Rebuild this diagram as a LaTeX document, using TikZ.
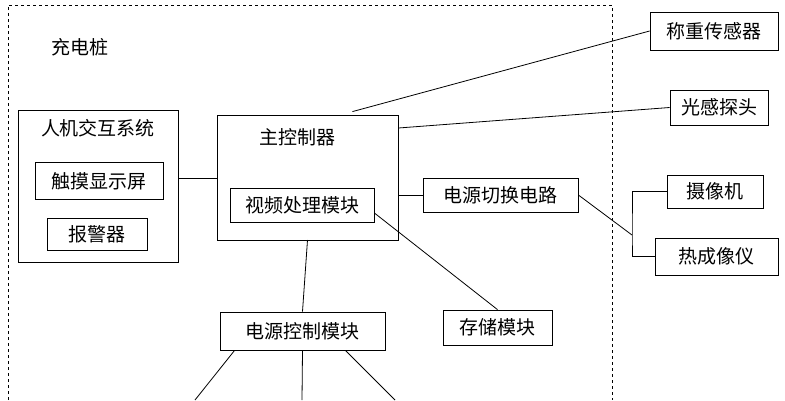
\documentclass[tikz,border=0pt]{standalone}
\usepackage{fontspec}
\setmainfont{Noto Sans CJK SC}
\usetikzlibrary{positioning}
\tikzset{
  blk/.style={draw,thick,rectangle,inner sep=0pt,font=\fontsize{19}{21}\selectfont},
  ln/.style={thick}
}
\begin{document}
\begin{tikzpicture}[x=1pt,y=-1pt]
  \useasboundingbox (0,0) rectangle (785,400);
  % charging pile frame
  \draw[thick,dashed] (8,400) -- (8,5) -- (612,5) -- (612,400);
  \node[font=\fontsize{19}{21}\selectfont] (pile) at (80,47) {充电桩};
  % human machine interface
  \node[blk,minimum width=160,minimum height=152] (hmi) at (98,186) {};
  \node[font=\fontsize{19}{21}\selectfont] (hmit) at (98,128) {人机交互系统};
  \node[blk,minimum width=128,minimum height=37] (touch) at (99,181) {触摸显示屏};
  \node[blk,minimum width=100,minimum height=32] (alarm) at (97,234) {报警器};
  % main controller
  \node[blk,minimum width=181,minimum height=125] (mcu) at (307.5,177.5) {};
  \node[font=\fontsize{19}{21}\selectfont] (mcut) at (297,137) {主控制器};
  \node[blk,minimum width=144,minimum height=34] (video) at (302,205) {视频处理模块};
  \node[blk,minimum width=155,minimum height=34] (switch) at (500.5,195) {电源切换电路};
  \node[blk,minimum width=109,minimum height=35] (store) at (497.5,327.5) {存储模块};
  \node[blk,minimum width=165,minimum height=38] (power) at (302.5,331) {电源控制模块};
  % outside devices
  \node[blk,minimum width=128,minimum height=38] (weigh) at (714,31) {称重传感器};
  \node[blk,minimum width=98,minimum height=35] (light) at (719,107.5) {光感探头};
  \node[blk,minimum width=96,minimum height=33] (cam) at (715,191.5) {摄像机};
  \node[blk,minimum width=123,minimum height=37] (thermal) at (716.5,256.5) {热成像仪};
  % connectors
  \draw[ln] (hmi.east |- 0,178) -- (mcu.west |- 0,178);
  \draw[ln] (mcu.north east) ++(-46,-3) coordinate (wp) -- (weigh.west);
  \draw[ln] (mcu.east |- 0,128) -- (light.west);
  \draw[ln] (mcu.east |- switch.west) -- (switch.west);
  \draw[ln] (video.east |- 0,213) -- (store.north);
  \draw[ln] (mcu.south |- 0,240) -- (power.north);
  \coordinate (fork) at (632,235);
  \draw[ln] (switch.east) -- (fork);
  \draw[ln] (cam.west) -| (fork) |- (thermal.west);
  % outputs of power control
  \coordinate (o1) at (195,400);
  \coordinate (o2) at (302,400);
  \coordinate (o3) at (395,400);
  \draw[ln] (power.south west) ++(15,0) -- (o1);
  \draw[ln] (power.south) -- (o2);
  \draw[ln] (power.south east) ++(-40,0) -- (o3);
\end{tikzpicture}
\end{document}
